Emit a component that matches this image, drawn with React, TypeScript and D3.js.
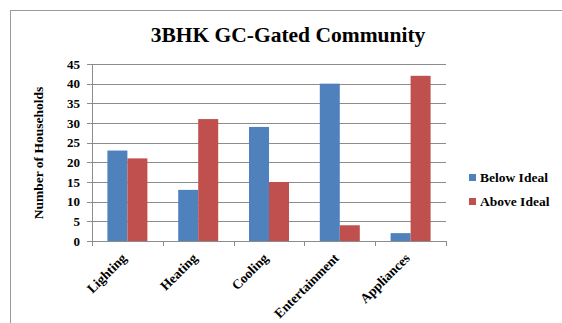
import React from "react";
import * as d3 from "d3";

const categories = ["Lighting", "Heating", "Cooling", "Entertainment", "Appliances"];
const seriesNames = ["Below Ideal", "Above Ideal"];
const belowIdeal = [23, 13, 29, 40, 2];
const aboveIdeal = [21, 31, 15, 4, 42];
const yTicks = [0, 5, 10, 15, 20, 25, 30, 35, 40, 45];
const colors = ["#4F81BD", "#C0504D"];

const W = 562;
const H = 323;
const left = 92;
const right = 446;
const top = 64;
const bottom = 241;
const font = "'Liberation Serif', 'Times New Roman', serif";

export default function App() {
  const x = d3.scaleBand<string>().domain(categories).range([left, right]).paddingInner(0.435).paddingOuter(0.2175);
  const xOuter = d3.scaleBand<string>().domain(categories).range([left, right]);
  const xInner = d3.scaleBand<string>().domain(seriesNames).range([0, x.bandwidth()]);
  const y = d3.scaleLinear().domain([0, 45]).range([bottom, top]);
  const series = [belowIdeal, aboveIdeal];

  return (
    <svg width={W} height={H} style={{ position: "absolute", left: 0, top: 0, background: "#fff" }} fontFamily={font}>
      <rect x={10.5} y={10.5} width={700} height={500} fill="none" stroke="#9a9a9a" strokeWidth={1} />
      <text x={288} y={42} textAnchor="middle" fontSize={21.5} fontWeight="bold" fill="#000">3BHK GC-Gated Community</text>
      {yTicks.map((t) => (
        <g key={t}>
          {t > 0 && <line x1={left} x2={right} y1={Math.round(y(t)) + 0.5} y2={Math.round(y(t)) + 0.5} stroke="#8c8c8c" strokeWidth={1} />}
          <line x1={left - 5} x2={left} y1={Math.round(y(t)) + 0.5} y2={Math.round(y(t)) + 0.5} stroke="#8c8c8c" />
          <text x={80} y={y(t)} dy="0.35em" textAnchor="end" fontSize={13} fontWeight="bold">{t}</text>
        </g>
      ))}
      <line x1={left + 0.5} x2={left + 0.5} y1={top} y2={bottom} stroke="#8c8c8c" />
      {series.map((vals, si) =>
        categories.map((c, i) => (
          <rect key={c + si} x={(x(c) as number) + (xInner(seriesNames[si]) as number)} y={y(vals[i])} width={xInner.bandwidth()} height={bottom - y(vals[i])} fill={colors[si]} />
        ))
      )}
      <line x1={left} x2={right} y1={bottom + 0.5} y2={bottom + 0.5} stroke="#8c8c8c" />
      {categories.concat([""]).map((c, i) => {
        const xx = Math.round(left + i * xOuter.step()) + 0.5;
        return <line key={"t" + i} x1={xx} x2={xx} y1={bottom} y2={bottom + 5} stroke="#8c8c8c" />;
      })}
      {categories.map((c) => {
        const cx = (xOuter(c) as number) + xOuter.bandwidth() / 2;
        return (
          <text key={"l" + c} transform={`translate(${cx},259) rotate(-45)`} textAnchor="end" fontSize={13.5} fontWeight="bold">{c}</text>
        );
      })}
      <text transform={`translate(43,153) rotate(-90)`} textAnchor="middle" fontSize={13.5} fontWeight="bold">Number of Households</text>
      {seriesNames.map((s, i) => (
        <g key={s}>
          <rect x={469} y={174 + i * 24} width={7} height={7} fill={colors[i]} />
          <text x={480} y={182 + i * 24} fontSize={13.5} fontWeight="bold">{s}</text>
        </g>
      ))}
    </svg>
  );
}
